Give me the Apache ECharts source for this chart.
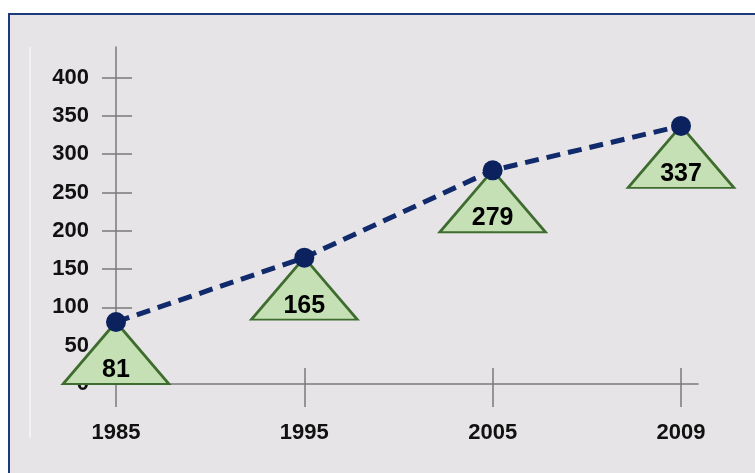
<!DOCTYPE html>
<html>
<head>
<meta charset="utf-8">
<script src="https://cdn.jsdelivr.net/npm/echarts@6/dist/echarts.min.js"></script>
<style>html,body{margin:0;padding:0;background:#fff;}#c{width:755px;height:473px;}</style>
</head>
<body>
<div id="c"></div>
<script>
const categories = ['1985', '1995', '2005', '2009'];
const values = [81, 165, 279, 337];
const yTicks = [0, 50, 100, 150, 200, 250, 300, 350, 400];

const pts = values.map((v, i) => [i, v]);
const xIdx = categories.map((c, i) => i);
const font = '"Liberation Sans", Arial, sans-serif';
const axisColor = '#7a7a7a';

const chart = echarts.init(document.getElementById('c'), null, {renderer: 'canvas'});
const yBase = {
  type: 'value', min: 0, max: 440,
  splitLine: {show: false},
  axisLine: {show: true, onZero: true, lineStyle: {color: axisColor, width: 1.5}},
};
const xBase = {
  type: 'value', min: -0.0743, max: 3.0903,
  splitLine: {show: false},
  axisLine: {show: true, onZero: false, lineStyle: {color: axisColor, width: 1.5}},
  position: 'bottom'
};
chart.setOption({
  backgroundColor: '#ffffff',
  animation: false,
  graphic: [
    {type: 'rect', z: -10, silent: true, shape: {x: 9, y: 14, width: 800, height: 500},
     style: {fill: '#e6e4e6', stroke: '#1d3a7c', lineWidth: 2}},
    {type: 'line', z: -9, silent: true, shape: {x1: 30, y1: 47, x2: 30, y2: 438},
     style: {stroke: '#ffffff', lineWidth: 1}}
  ],
  grid: {left: 102, right: 57, top: 47, bottom: 89, containLabel: false},
  xAxis: [
    Object.assign({}, xBase, {
      axisTick: {show: true, customValues: xIdx, length: 23, inside: false, lineStyle: {color: axisColor, width: 1.5}},
      axisLabel: {show: true, customValues: xIdx, margin: 38, formatter: v => categories[Math.round(v)],
        color: '#111', fontSize: 22, fontWeight: 'bold', fontFamily: font}
    }),
    Object.assign({}, xBase, {
      axisLine: {show: false},
      axisTick: {show: true, customValues: xIdx, length: 16, inside: true, lineStyle: {color: axisColor, width: 1.5}},
      axisLabel: {show: false}
    })
  ],
  yAxis: [
    Object.assign({}, yBase, {
      position: 'left',
      axisTick: {show: true, customValues: yTicks, length: 14, inside: false, lineStyle: {color: axisColor, width: 1.5}},
      axisLabel: {show: true, customValues: yTicks, margin: 13,
        color: '#111', fontSize: 22, fontWeight: 'bold', fontFamily: font}
    }),
    Object.assign({}, yBase, {
      position: 'left',
      axisLine: {show: false, onZero: true},
      axisTick: {show: true, customValues: yTicks, length: 16, inside: true, lineStyle: {color: axisColor, width: 1.5}},
      axisLabel: {show: false}
    })
  ],
  series: [
    {
      type: 'scatter', z: 3, xAxisIndex: 0, yAxisIndex: 0,
      data: pts,
      symbol: 'triangle', symbolSize: [106, 62], symbolOffset: [0, 31],
      itemStyle: {color: '#c6e0b5', borderColor: '#3e6c2f', borderWidth: 2.5, opacity: 1},
      label: {show: true, position: 'inside', offset: [0, 17],
        formatter: p => String(p.value[1]),
        color: '#000', fontSize: 25, fontWeight: 'bold', fontFamily: font},
      emphasis: {disabled: true}
    },
    {
      type: 'line', z: 5, xAxisIndex: 0, yAxisIndex: 0,
      data: pts,
      symbol: 'circle', symbolSize: 20, showSymbol: true,
      lineStyle: {color: '#112a6c', width: 5, type: [14, 8]},
      itemStyle: {color: '#0c225e', borderWidth: 0},
      label: {show: false},
      emphasis: {disabled: true}
    }
  ]
});
</script>
</body>
</html>
